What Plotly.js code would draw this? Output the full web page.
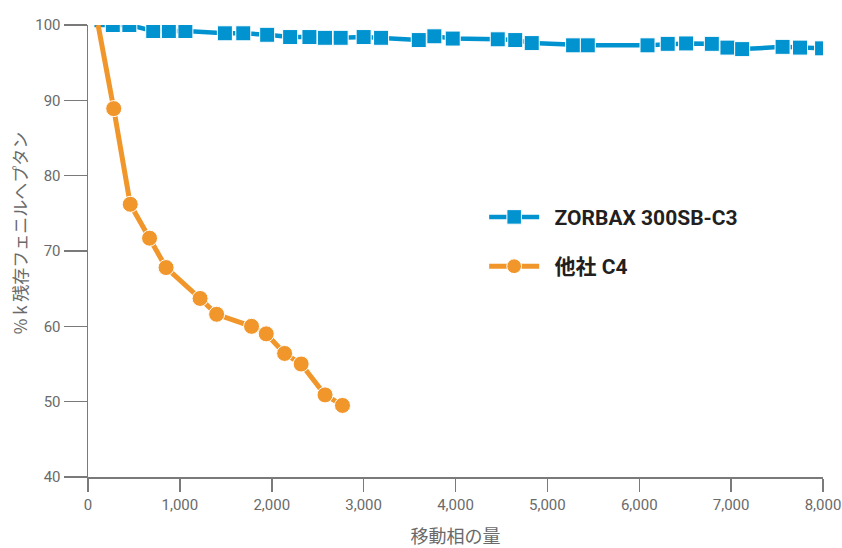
<!DOCTYPE html>
<html>
<head>
<meta charset="utf-8">
<script src="https://cdn.plot.ly/plotly-3.0.1.min.js"></script>
<style>
  html, body { margin: 0; padding: 0; background: #ffffff; }
  #chart { width: 842px; height: 548px; }
</style>
</head>
<body>
<div id="chart"></div>
<script>
// Mobile-phase volume (x) and % k remaining for phenylheptane (y)
const zorbaxName = 'ZORBAX 300SB-C3';
const zorbaxVolume = [70, 270, 450, 710, 880, 1060, 1490, 1690, 1950, 2200, 2410, 2580, 2750,
  3000, 3190, 3600, 3770, 3970, 4460, 4650, 4830, 5280, 5440, 6090, 6310, 6510,
  6790, 6960, 7120, 7560, 7750, 7990];
const zorbaxRetained = [100, 100, 100, 99.2, 99.2, 99.2, 98.9, 98.9, 98.7, 98.4, 98.4, 98.3, 98.3,
  98.4, 98.3, 98.0, 98.5, 98.2, 98.1, 98.0, 97.6, 97.3, 97.3, 97.3, 97.5, 97.55,
  97.5, 97.0, 96.8, 97.1, 97.0, 96.9];

const otherName = '他社 C4';
const otherVolume = [110, 280, 460, 670, 850, 1220, 1400, 1780, 1940, 2140, 2320, 2580, 2770];
const otherRetained = [100, 88.9, 76.2, 71.7, 67.8, 63.7, 61.6, 60.0, 59.0, 56.4, 55.0, 50.9, 49.5];

const xTickVals = [0, 1000, 2000, 3000, 4000, 5000, 6000, 7000, 8000];
const xTickText = ['0', '1,000', '2,000', '3,000', '4,000', '5,000', '6,000', '7,000', '8,000'];
const yTickVals = [40, 50, 60, 70, 80, 90, 100];

const xTitle = '移動相の量';
const yTitle = '% k 残存フェニルヘプタン';

const BLUE = '#0093d0';
const ORANGE = '#f0962a';
const AXIS = '#7a7a7a';
const TICKTEXT = '#6a6a6a';
const SANS = 'Roboto, "Liberation Sans", "Noto Sans CJK JP", sans-serif';
const CJK = '"Noto Sans CJK JP", Roboto, sans-serif';

// the opening point of each run is drawn as a line end only, without a marker
const hideFirst = (arr, size) => arr.map((_, i) => (i === 0 ? 0 : size));
// a little breathing room between the legend swatch and its label
const legendLabel = (name) => '\u00a0\u00a0' + name;

const traces = [
  {
    name: legendLabel(zorbaxName),
    x: zorbaxVolume,
    y: zorbaxRetained,
    type: 'scatter',
    mode: 'lines+markers',
    legendgroup: 'zorbax',
    line: { color: BLUE, width: 4.5 },
    marker: { symbol: 'square', color: BLUE, opacity: 1, size: hideFirst(zorbaxVolume, 15) }
  },
  {
    name: legendLabel(otherName),
    x: otherVolume,
    y: otherRetained,
    type: 'scatter',
    mode: 'lines+markers',
    legendgroup: 'other',
    line: { color: ORANGE, width: 5 },
    marker: { symbol: 'circle', color: ORANGE, opacity: 1, size: hideFirst(otherVolume, 16) }
  }
];

const layout = {
  width: 842,
  height: 548,
  paper_bgcolor: '#ffffff',
  plot_bgcolor: '#ffffff',
  margin: { l: 88, r: 19, t: 25, b: 71 },
  showlegend: true,
  legend: {
    x: 0.539, y: 0.62, xanchor: 'left', yanchor: 'top',
    traceorder: 'grouped',
    tracegroupgap: 19,
    itemwidth: 50,
    bgcolor: 'rgba(0,0,0,0)',
    font: { family: SANS, size: 21, color: '#231f20', weight: 'bold' }
  },
  xaxis: {
    range: [0, 8000],
    tickvals: xTickVals,
    ticktext: xTickText,
    showgrid: false,
    zeroline: false,
    showline: true,
    linecolor: AXIS,
    linewidth: 1.5,
    ticks: 'outside',
    ticklen: 13,
    tickwidth: 1.5,
    tickcolor: AXIS,
    ticklabeloverflow: 'allow',
    tickfont: { family: SANS, size: 15, color: TICKTEXT },
    title: { text: xTitle, standoff: 18, font: { family: CJK, size: 18, color: TICKTEXT } }
  },
  yaxis: {
    range: [40, 100],
    tickvals: yTickVals,
    showgrid: false,
    zeroline: false,
    showline: true,
    linecolor: AXIS,
    linewidth: 1.5,
    ticks: 'outside',
    ticklen: 23,
    tickwidth: 1.5,
    tickcolor: AXIS,
    tickfont: { family: SANS, size: 15, color: TICKTEXT }
  },
  annotations: [
    {
      text: yTitle,
      xref: 'paper', yref: 'paper',
      x: -0.092, y: 0.54,
      xanchor: 'center', yanchor: 'middle',
      textangle: -90,
      showarrow: false,
      font: { family: CJK, size: 17, color: TICKTEXT }
    }
  ]
};

Plotly.newPlot('chart', traces, layout, { displayModeBar: false, staticPlot: true });
</script>
</body>
</html>
